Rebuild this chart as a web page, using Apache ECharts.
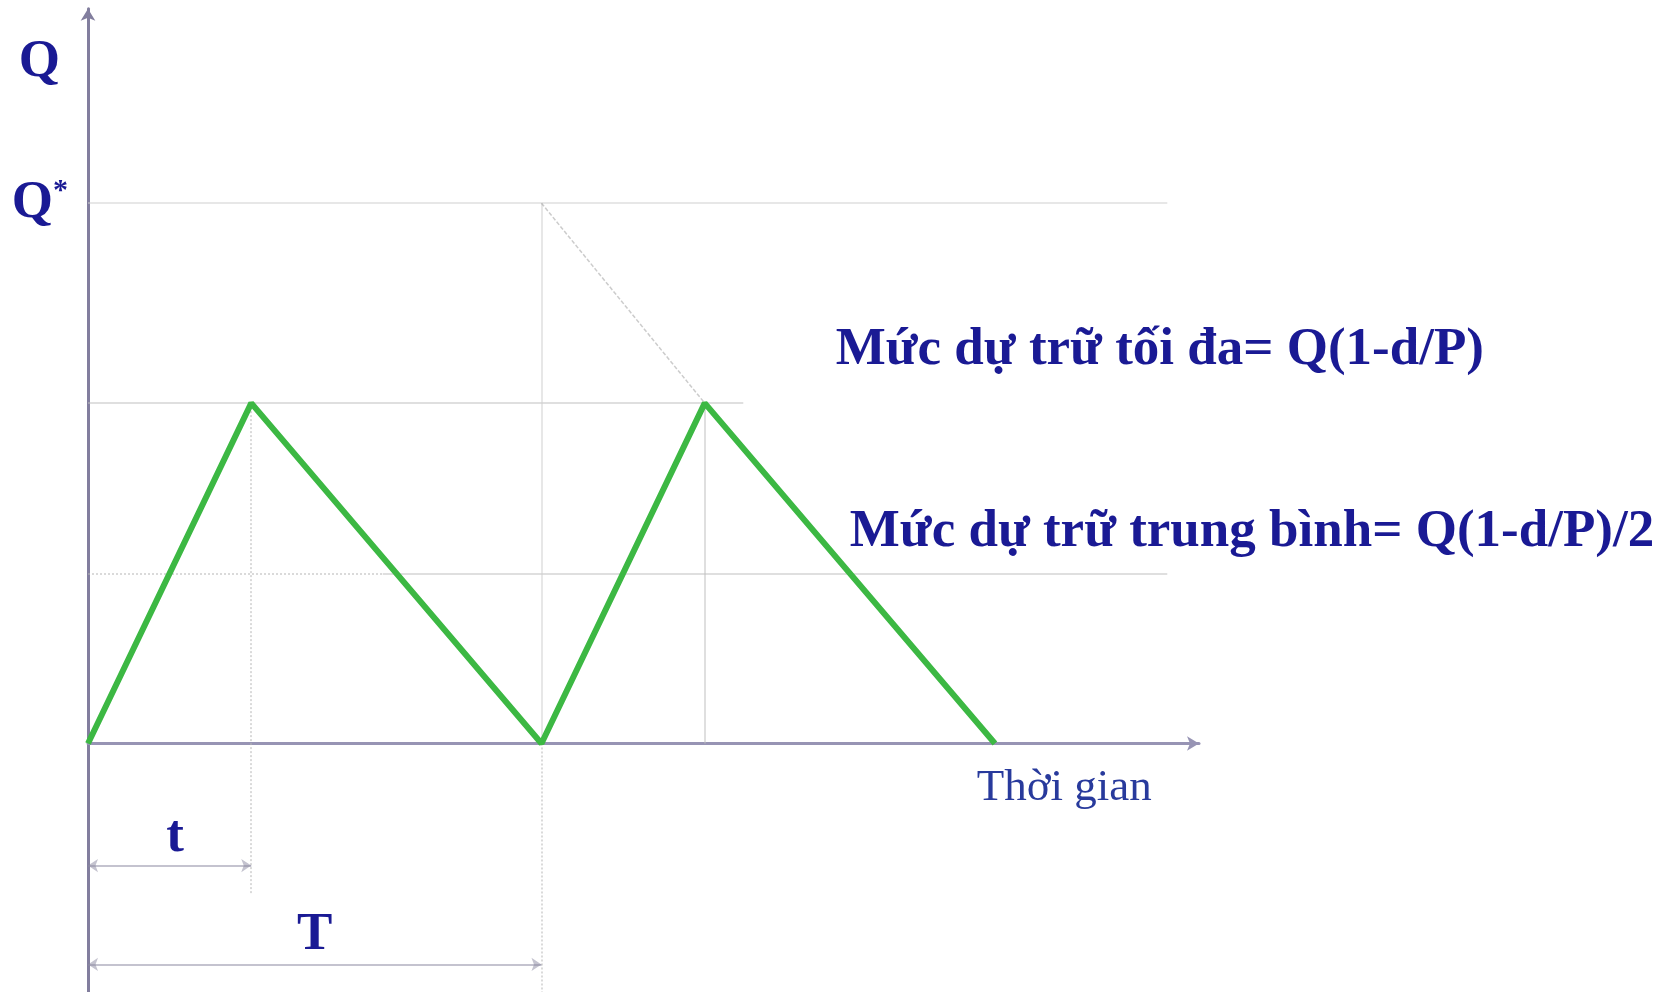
<!DOCTYPE html>
<html>
<head>
<meta charset="utf-8">
<title>Mức dự trữ</title>
<script src="https://cdn.jsdelivr.net/npm/echarts@6/dist/echarts.min.js"></script>
<style>
  html, body { margin: 0; padding: 0; background: #ffffff; }
  #chart { width: 1665px; height: 992px; }
</style>
</head>
<body>
<div id="chart"></div>
<script>
// Inventory level over time (production-while-consuming model)
const stockTimes  = [0, 3.6, 10, 13.6, 20];
const stockLevels = [0, 63, 0, 63, 0];

// Key levels and times
const orderQty   = 100;   // Q*
const maxStock   = 63;    // Q(1-d/P)
const avgStock   = 31.5;  // Q(1-d/P)/2
const runUpTime  = 3.6;   // t
const cycleTime  = 10;    // T
const axisTopQ   = 126;   // position of the "Q" axis title

// Texts
const maxText  = 'Mức dự trữ tối đa= Q(1-d/P)';
const avgText  = 'Mức dự trữ trung bình= Q(1-d/P)/2';
const timeText = 'Thời gian';
const runUpText = 't';
const cycleText = 'T';

const SERIF = "'Liberation Serif', 'Times New Roman', serif";
const INK = '#1a1a94';

const chart = echarts.init(document.getElementById('chart'), null, { renderer: 'canvas' });

const guide = (a, b, style) => ({ coords: [a, b], lineStyle: style });
const solidGray  = { color: '#c0c0c0', width: 2, type: 'solid' };
const lightGray  = { color: '#d0d0d0', width: 2, type: 'solid' };
const dottedGray = { color: '#b6b6b6', width: 2, type: [2, 2] };

const boldLabel = (size) => ({
  show: true, fontFamily: SERIF, fontWeight: 'bold', fontSize: size, color: INK, opacity: 1
});

const option = {
  backgroundColor: '#ffffff',
  animation: false,
  grid: { left: 88, top: 8.7, width: 1111, height: 987.4, containLabel: false },
  xAxis: {
    type: 'value', min: 0, max: 24.5,
    axisLine: { show: true, onZero: true, symbol: ['none', 'arrow'], symbolSize: [11, 12],
      lineStyle: { color: '#9794b4', width: 3 } },
    axisTick: { show: false }, axisLabel: { show: false }, splitLine: { show: false }
  },
  yAxis: {
    type: 'value', min: -46, max: 136,
    axisLine: { show: true, onZero: false, symbol: ['none', 'arrow'], symbolSize: [11, 12],
      lineStyle: { color: '#827e9e', width: 3 } },
    axisTick: { show: false }, splitLine: { show: false },
    axisLabel: {
      customValues: [orderQty, axisTopQ],
      margin: 20,
      formatter: v => v === orderQty ? '{q|Q}{s|*}' : '{qt|Q}',
      rich: {
        q:  { fontFamily: SERIF, fontWeight: 'bold', fontSize: 53, color: INK },
        s:  { fontFamily: SERIF, fontWeight: 'bold', fontSize: 30, color: INK, padding: [0, 0, 24, 0] },
        qt: { fontFamily: SERIF, fontWeight: 'bold', fontSize: 53, color: INK, padding: [0, 8, 0, 0] }
      }
    }
  },
  series: [
    {
      // reference lines for Q*, max and average stock, plus time markers
      type: 'lines', coordinateSystem: 'cartesian2d', z: 2, silent: true,
      symbol: 'none',
      data: [
        guide([0, orderQty], [23.8, orderQty], lightGray),
        guide([0, maxStock], [14.45, maxStock], solidGray),
        guide([0, avgStock], [6.5, avgStock], dottedGray),
        guide([6.5, avgStock], [23.8, avgStock], solidGray),
        guide([runUpTime, maxStock], [runUpTime, -27.7], dottedGray),
        guide([cycleTime, orderQty], [cycleTime, 0], lightGray),
        guide([cycleTime, 0], [cycleTime, -46], dottedGray),
        guide([cycleTime + runUpTime, maxStock], [cycleTime + runUpTime, 0], solidGray),
        guide([cycleTime, orderQty], [cycleTime + runUpTime, maxStock],
              { color: '#9a9a9a', width: 1.5, type: [4, 2] })
      ]
    },
    {
      // dimension arrows for t and T
      type: 'lines', coordinateSystem: 'cartesian2d', z: 3, silent: true,
      symbol: ['arrow', 'arrow'], symbolSize: 10,
      lineStyle: { color: '#8a88a0', width: 2 },
      data: [
        { coords: [[0, -22.6], [runUpTime, -22.6]] },
        { coords: [[0, -40.9], [cycleTime, -40.9]] }
      ]
    },
    {
      // inventory level
      type: 'line', z: 5, symbol: 'none', silent: true,
      lineStyle: { color: '#3cb843', width: 6 },
      data: stockTimes.map((x, i) => [x, stockLevels[i]])
    },
    {
      // text annotations
      type: 'scatter', z: 6, symbolSize: 0, silent: true,
      itemStyle: { opacity: 1 },
      label: { show: true, position: 'inside', formatter: p => p.data.text },
      data: [
        { value: [16.49, 72.8], text: maxText,
          label: Object.assign(boldLabel(53), { align: 'left', verticalAlign: 'middle' }) },
        { value: [16.8, 39.0], text: avgText,
          label: Object.assign(boldLabel(53), { align: 'left', verticalAlign: 'middle' }) },
        { value: [19.6, -8.3], text: timeText,
          label: { show: true, fontFamily: SERIF, fontSize: 45, color: '#283a9c', opacity: 1,
                   align: 'left', verticalAlign: 'middle' } },
        { value: [1.92, -17.4], text: runUpText,
          label: Object.assign(boldLabel(53), { align: 'center', verticalAlign: 'middle' }) },
        { value: [5.0, -35.6], text: cycleText,
          label: Object.assign(boldLabel(53), { align: 'center', verticalAlign: 'middle' }) }
      ]
    }
  ]
};

chart.setOption(option);
</script>
</body>
</html>
